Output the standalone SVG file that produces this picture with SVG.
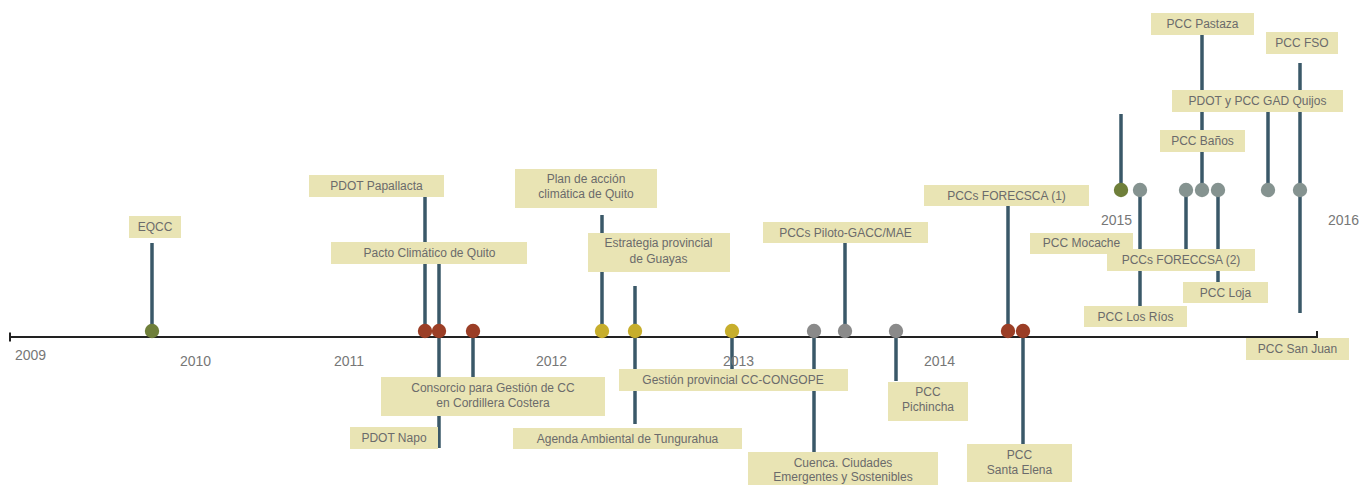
<svg xmlns="http://www.w3.org/2000/svg" width="1360" height="486" viewBox="0 0 1360 486">
<style>
.bg{fill:#ffffff}
.lbl rect{fill:#e9e4b4}
.lbl text,.yr{font-family:"Liberation Sans",Arial,sans-serif;fill:#6b6b6b;text-anchor:middle}
.lbl text{font-size:12px}
.yr{font-size:14px;text-anchor:start;fill:#777}
.stem{stroke:#3a5868;stroke-width:3.5;fill:none}
.axis{stroke:#222;stroke-width:2;fill:none}
.r{fill:#9b3e26}.y{fill:#c7ae2c}.g{fill:#6f7f3a}.k{fill:#8a8a8a}.s{fill:#859390}
</style>
<rect class="bg" width="1360" height="486"/>
<g id="connectors">
<line class="stem" x1="152" y1="243" x2="152" y2="331"/>
<line class="stem" x1="425" y1="197" x2="425" y2="331"/>
<line class="stem" x1="439" y1="264" x2="439" y2="448"/>
<line class="stem" x1="473" y1="331" x2="473" y2="377"/>
<line class="stem" x1="602" y1="215" x2="602" y2="331"/>
<line class="stem" x1="635" y1="286" x2="635" y2="424"/>
<line class="stem" x1="732" y1="331" x2="732" y2="369"/>
<line class="stem" x1="814" y1="331" x2="814" y2="452"/>
<line class="stem" x1="845" y1="243" x2="845" y2="331"/>
<line class="stem" x1="896" y1="331" x2="896" y2="381"/>
<line class="stem" x1="1008" y1="206" x2="1008" y2="331"/>
<line class="stem" x1="1023" y1="331" x2="1023" y2="444"/>
<line class="stem" x1="1121" y1="114" x2="1121" y2="190"/>
<line class="stem" x1="1140" y1="190" x2="1140" y2="306"/>
<line class="stem" x1="1186" y1="190" x2="1186" y2="249"/>
<line class="stem" x1="1202" y1="35" x2="1202" y2="190"/>
<line class="stem" x1="1218" y1="190" x2="1218" y2="282"/>
<line class="stem" x1="1268" y1="112" x2="1268" y2="190"/>
<line class="stem" x1="1300" y1="63" x2="1300" y2="313"/>
<path class="axis" d="M10 337 H1317 M10 332.5 V341.5 M1317 331 V338"/>
</g>
<g id="years">
<text class="yr" x="15" y="360">2009</text>
<text class="yr" x="180" y="366">2010</text>
<text class="yr" x="334" y="366">2011</text>
<text class="yr" x="536" y="366">2012</text>
<text class="yr" x="723" y="366">2013</text>
<text class="yr" x="924" y="366">2014</text>
<text class="yr" x="1101" y="225">2015</text>
<text class="yr" x="1328" y="225">2016</text>
</g>
<g id="dots">
<circle class="g" cx="152" cy="331" r="7.2"/>
<circle class="r" cx="425" cy="331" r="7.2"/>
<circle class="r" cx="439" cy="331" r="7.2"/>
<circle class="r" cx="473" cy="331" r="7.2"/>
<circle class="y" cx="602" cy="331" r="7.2"/>
<circle class="y" cx="635" cy="331" r="7.2"/>
<circle class="y" cx="732" cy="331" r="7.2"/>
<circle class="k" cx="814" cy="331" r="7.2"/>
<circle class="k" cx="845" cy="331" r="7.2"/>
<circle class="k" cx="896" cy="331" r="7.2"/>
<circle class="r" cx="1008" cy="331" r="7.2"/>
<circle class="r" cx="1023" cy="331" r="7.2"/>
<circle class="g" cx="1121" cy="190" r="7.2"/>
<circle class="s" cx="1140" cy="190" r="7.2"/>
<circle class="s" cx="1186" cy="190" r="7.2"/>
<circle class="s" cx="1202" cy="190" r="7.2"/>
<circle class="s" cx="1218" cy="190" r="7.2"/>
<circle class="s" cx="1268" cy="190" r="7.2"/>
<circle class="s" cx="1300" cy="190" r="7.2"/>
</g>
<g id="n-eqcc" class="lbl"><rect x="129" y="216" width="52" height="22"/><text x="155" y="231">EQCC</text></g>
<g id="n-papallacta" class="lbl"><rect x="309" y="175" width="135" height="22"/><text x="376.5" y="190">PDOT Papallacta</text></g>
<g id="n-pacto" class="lbl"><rect x="331" y="242" width="196" height="22"/><text x="429.5" y="257">Pacto Climático de Quito</text></g>
<g id="n-consorcio" class="lbl"><rect x="381" y="377" width="224" height="39"/><text x="493" y="392">Consorcio para Gestión de CC</text><text x="493" y="407">en Cordillera Costera</text></g>
<g id="n-napo" class="lbl"><rect x="350" y="427" width="88" height="22"/><text x="394" y="442">PDOT Napo</text></g>
<g id="n-planquito" class="lbl"><rect x="515" y="169" width="142" height="39"/><text x="586" y="183">Plan de acción</text><text x="586" y="198">climática de Quito</text></g>
<g id="n-guayas" class="lbl"><rect x="588" y="233" width="142" height="39"/><text x="658.5" y="247">Estrategia provincial</text><text x="658.5" y="263">de Guayas</text></g>
<g id="n-tungurahua" class="lbl"><rect x="513" y="428" width="229" height="21"/><text x="627.5" y="443">Agenda Ambiental de Tungurahua</text></g>
<g id="n-congope" class="lbl"><rect x="619" y="369" width="229" height="22"/><text x="733" y="384">Gestión provincial CC-CONGOPE</text></g>
<g id="n-cuenca" class="lbl"><rect x="748" y="452" width="190" height="33"/><text x="843" y="467">Cuenca. Ciudades</text><text x="843" y="481">Emergentes y Sostenibles</text></g>
<g id="n-piloto" class="lbl"><rect x="763" y="222" width="165" height="21"/><text x="845.5" y="237">PCCs Piloto-GACC/MAE</text></g>
<g id="n-pichincha" class="lbl"><rect x="888" y="382" width="80" height="39"/><text x="928" y="396">PCC</text><text x="928" y="411">Pichincha</text></g>
<g id="n-forecsca1" class="lbl"><rect x="924" y="185" width="165" height="21"/><text x="1006.5" y="200">PCCs FORECSCA (1)</text></g>
<g id="n-santaelena" class="lbl"><rect x="967" y="444" width="105" height="38"/><text x="1019.5" y="459">PCC</text><text x="1019.5" y="474">Santa Elena</text></g>
<g id="n-mocache" class="lbl"><rect x="1030" y="233" width="103" height="21"/><text x="1081.5" y="247">PCC Mocache</text></g>
<g id="n-losrios" class="lbl"><rect x="1084" y="306" width="103" height="21"/><text x="1135.5" y="321">PCC Los Ríos</text></g>
<g id="n-forecssa2" class="lbl"><rect x="1107" y="249" width="148" height="22"/><text x="1181" y="264">PCCs FORECCSA (2)</text></g>
<g id="n-loja" class="lbl"><rect x="1183" y="282" width="85" height="21"/><text x="1225.5" y="297">PCC Loja</text></g>
<g id="n-pastaza" class="lbl"><rect x="1151" y="13" width="103" height="22"/><text x="1202.5" y="28">PCC Pastaza</text></g>
<g id="n-fso" class="lbl"><rect x="1266" y="32" width="72" height="22"/><text x="1302" y="47">PCC FSO</text></g>
<g id="n-quijos" class="lbl"><rect x="1172" y="90" width="171" height="22"/><text x="1257.5" y="105">PDOT y PCC GAD Quijos</text></g>
<g id="n-banos" class="lbl"><rect x="1160" y="130" width="85" height="22"/><text x="1202.5" y="145">PCC Baños</text></g>
<g id="n-sanjuan" class="lbl"><rect x="1246" y="338" width="103" height="22"/><text x="1297.5" y="353">PCC San Juan</text></g>
</svg>
